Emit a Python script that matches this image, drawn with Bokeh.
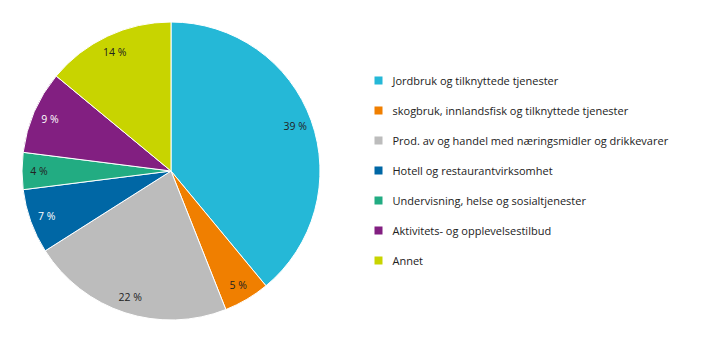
import numpy as np
import pandas as pd
from bokeh.plotting import figure
from bokeh.models import ColumnDataSource, Range1d
from bokeh.core.properties import value
from bokeh.embed import file_html
from bokeh.resources import INLINE

categories = [
    "Jordbruk og tilknyttede tjenester",
    "skogbruk, innlandsfisk og tilknyttede tjenester",
    "Prod. av og handel med næringsmidler og drikkevarer",
    "Hotell og restaurantvirksomhet",
    "Undervisning, helse og sosialtjenester",
    "Aktivitets- og opplevelsestilbud",
    "Annet",
]
shares = [39, 5, 22, 7, 4, 9, 14]
colors = ["#25b8d7", "#f07f00", "#bcbcbc", "#0067a5", "#22ac82", "#821f81", "#c8d400"]
label_colors = ["#222222", "#222222", "#222222", "#ffffff", "#222222", "#ffffff", "#222222"]

W, H = 719, 341
CX, CY, R = 170.5, H - 170.5, 149
LABEL_R = 132
FONT = "Open Sans"

df = pd.DataFrame({"cat": categories, "share": shares, "color": colors, "lcolor": label_colors})
frac = df["share"] / df["share"].sum()
cum_end = frac.cumsum()
cum_start = cum_end - frac
df["start"] = np.pi / 2 - cum_start * 2 * np.pi
df["end"] = np.pi / 2 - cum_end * 2 * np.pi
mid = np.pi / 2 - (cum_start + frac / 2) * 2 * np.pi
df["lx"] = CX + LABEL_R * np.cos(mid)
df["ly"] = CY + LABEL_R * np.sin(mid)
df["ltext"] = [f"{s} %" for s in df["share"]]
df["legy"] = H - (80 + 30 * np.arange(len(df)))
df["legx"] = 378.0
df["legtx"] = 392.0

src = ColumnDataSource(df)

p = figure(width=W, height=H, x_range=Range1d(0, W), y_range=Range1d(0, H),
           output_backend="svg", toolbar_location=None,
           x_axis_location=None, y_axis_location=None, min_border=0)
p.grid.visible = False
p.outline_line_color = None
p.background_fill_color = "white"

p.wedge(x=CX, y=CY, radius=R, start_angle="start", end_angle="end", direction="clock",
        fill_color="color", line_color="white", line_width=1, source=src)
p.text(x="lx", y="ly", text="ltext", text_color="lcolor", text_align="center",
       text_baseline="middle", text_font=value(FONT), text_font_size="10.5px", source=src)

p.rect(x="legx", y="legy", width=8, height=8, width_units="screen", height_units="screen",
       fill_color="color", line_color=None, source=src)
p.text(x="legtx", y="legy", text="cat", text_color="#222222", text_align="left",
       text_baseline="middle", text_font=value(FONT), text_font_size="11px", source=src)

open("out.html", "w").write(file_html(p, INLINE))
